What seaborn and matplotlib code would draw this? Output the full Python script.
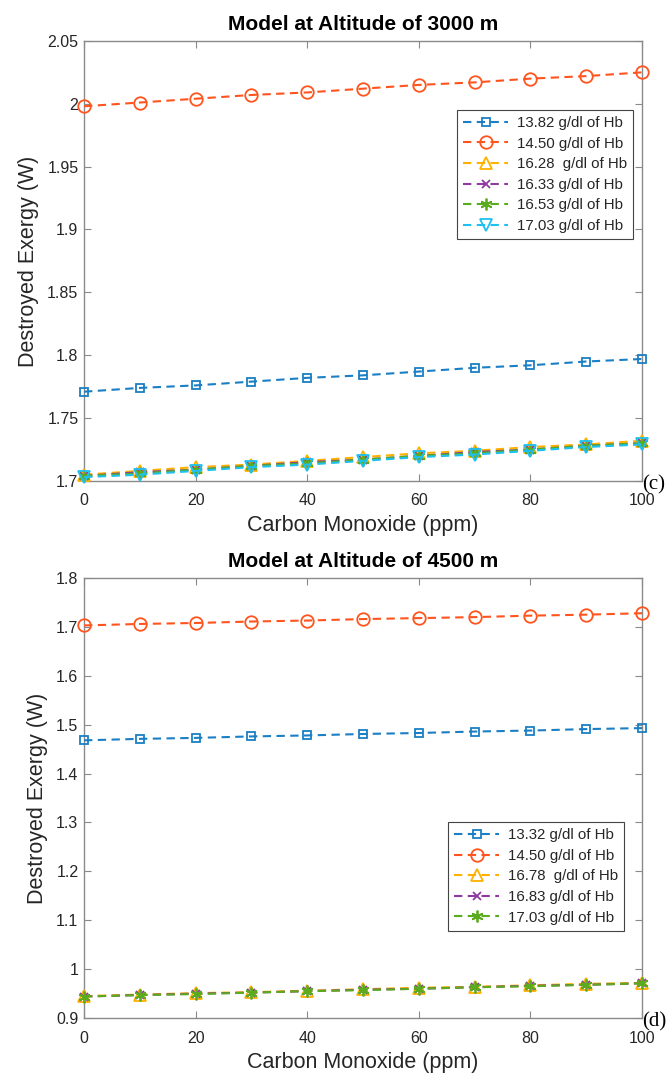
import numpy as np
import pandas as pd
import matplotlib
matplotlib.use("Agg")
import matplotlib.pyplot as plt
import seaborn as sns

sns.set_theme(style="white")
plt.rcParams['font.family'] = ['Liberation Sans', 'DejaVu Sans']

co_ppm = [0, 10, 20, 30, 40, 50, 60, 70, 80, 90, 100]

# Panel (c): altitude 3000 m
labels_c = ["13.82 g/dl of Hb", "14.50 g/dl of Hb", "16.28  g/dl of Hb",
            "16.33 g/dl of Hb", "16.53 g/dl of Hb", "17.03 g/dl of Hb"]
c_1382 = [1.771, 1.774, 1.776, 1.779, 1.782, 1.784, 1.787, 1.790, 1.792, 1.795, 1.797]
c_1450 = [1.998, 2.001, 2.004, 2.007, 2.009, 2.012, 2.015, 2.017, 2.020, 2.022, 2.025]
c_1628 = [1.705, 1.708, 1.711, 1.713, 1.716, 1.719, 1.722, 1.724, 1.727, 1.729, 1.732]
c_1633 = [1.704, 1.707, 1.709, 1.712, 1.715, 1.717, 1.720, 1.723, 1.725, 1.728, 1.730]
c_1653 = [1.704, 1.706, 1.709, 1.712, 1.714, 1.717, 1.720, 1.722, 1.725, 1.728, 1.730]
c_1703 = [1.703, 1.705, 1.708, 1.711, 1.713, 1.716, 1.719, 1.721, 1.724, 1.727, 1.729]

# Panel (d): altitude 4500 m
labels_d = ["13.32 g/dl of Hb", "14.50 g/dl of Hb", "16.78  g/dl of Hb",
            "16.83 g/dl of Hb", "17.03 g/dl of Hb"]
d_1332 = [1.468, 1.471, 1.473, 1.476, 1.478, 1.481, 1.483, 1.486, 1.488, 1.491, 1.493]
d_1450 = [1.703, 1.706, 1.708, 1.711, 1.713, 1.716, 1.718, 1.720, 1.723, 1.725, 1.728]
d_1678 = [0.945, 0.948, 0.951, 0.953, 0.956, 0.959, 0.962, 0.964, 0.967, 0.970, 0.972]
d_1683 = [0.944, 0.947, 0.950, 0.952, 0.955, 0.958, 0.960, 0.963, 0.966, 0.968, 0.971]
d_1703 = [0.944, 0.947, 0.949, 0.952, 0.955, 0.957, 0.960, 0.963, 0.965, 0.968, 0.971]

yticks_c = [1.7, 1.75, 1.8, 1.85, 1.9, 1.95, 2.0, 2.05]
yticklabels_c = ["1.7", "1.75", "1.8", "1.85", "1.9", "1.95", "2", "2.05"]
yticks_d = [0.9, 1.0, 1.1, 1.2, 1.3, 1.4, 1.5, 1.6, 1.7, 1.8]
yticklabels_d = ["0.9", "1", "1.1", "1.2", "1.3", "1.4", "1.5", "1.6", "1.7", "1.8"]
xticks = [0, 20, 40, 60, 80, 100]

colors = ["#1a7fc4", "#ff541e", "#ffb100", "#8e3a9e", "#5aab1e", "#1ec0f0"]
markers = ["s", "o", "^", "x", (6, 2, 0), "v"]
msizes = [5.5, 9, 8.5, 6, 8.5, 8.5]

axis_grey = "#8a8a8a"
text_dark = "#262626"

fig = plt.figure(figsize=(6.67, 10.82), dpi=100)
ax_c = fig.add_axes([0.126, 0.5555, 0.8366, 0.4067])
ax_d = fig.add_axes([0.126, 0.0591, 0.8366, 0.4067])


def draw(ax, series, labels, title, yticks, yticklabels, ylim, tag, leg_anchor):
    for i, (vals, lab) in enumerate(zip(series, labels)):
        df = pd.DataFrame({"CO": co_ppm, "Ex": vals})
        sns.lineplot(data=df, x="CO", y="Ex", ax=ax, color=colors[i],
                     linestyle=(0, (4, 2.6)), linewidth=1.5,
                     marker=markers[i], markersize=msizes[i],
                     markerfacecolor="none", markeredgecolor=colors[i],
                     markeredgewidth=1.3, label=lab, clip_on=False, zorder=3)
    ax.set_xlim(0, 100)
    ax.set_ylim(*ylim)
    ax.set_xticks(xticks)
    ax.set_xticklabels([str(t) for t in xticks])
    ax.set_yticks(yticks)
    ax.set_yticklabels(yticklabels)
    for s in ax.spines.values():
        s.set_visible(True)
        s.set_color(axis_grey)
        s.set_linewidth(1.0)
    ax.tick_params(direction="in", length=5, width=0.8, color=axis_grey,
                   labelsize=11.5, labelcolor=text_dark, top=True, right=True,
                   bottom=True, left=True, pad=4)
    ax.tick_params(axis="x", pad=9)
    ax.set_xlabel("Carbon Monoxide (ppm)", fontsize=15.5, color=text_dark, labelpad=5)
    ax.set_ylabel("Destroyed Exergy (W)", fontsize=15.5, color=text_dark, labelpad=6)
    ax.set_title(title, fontsize=15, fontweight="bold", color="black", pad=8)
    leg = ax.legend(loc="upper right", bbox_to_anchor=leg_anchor, fontsize=10.8,
                    frameon=True, fancybox=False, framealpha=1, edgecolor="#444444",
                    handlelength=3.0, handletextpad=0.6, labelspacing=0.44,
                    borderpad=0.4, borderaxespad=0)
    leg.get_frame().set_linewidth(0.8)
    for t in leg.get_texts():
        t.set_color(text_dark)
    ax.text(1.0, -0.008, tag, transform=ax.transAxes, ha="left", va="center",
            fontsize=15, family=["Liberation Serif", "DejaVu Serif"], color="black")


draw(ax_c, [c_1382, c_1450, c_1628, c_1633, c_1653, c_1703], labels_c,
     "Model at Altitude of 3000 m", yticks_c, yticklabels_c, (1.7, 2.05), "(c)",
     (0.984, 0.843))
draw(ax_d, [d_1332, d_1450, d_1678, d_1683, d_1703], labels_d,
     "Model at Altitude of 4500 m", yticks_d, yticklabels_d, (0.9, 1.8), "(d)",
     (0.968, 0.445))

fig.savefig("out.png", dpi=100)
